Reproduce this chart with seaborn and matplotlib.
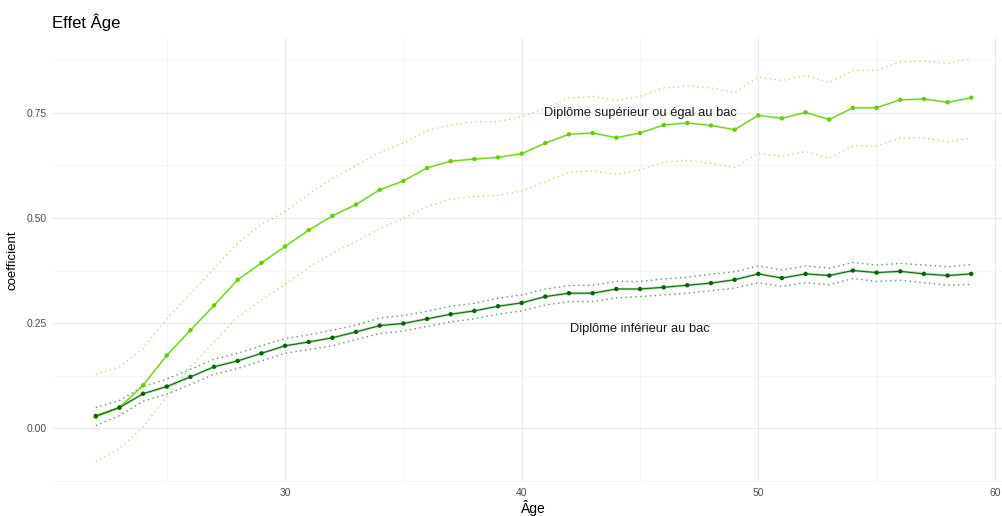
import numpy as np
import pandas as pd
import matplotlib
matplotlib.use("Agg")
import matplotlib.pyplot as plt
import seaborn as sns

ages = [22, 23, 24, 25, 26, 27, 28, 29, 30, 31, 32, 33, 34, 35, 36, 37, 38, 39, 40,
        41, 42, 43, 44, 45, 46, 47, 48, 49, 50, 51, 52, 53, 54, 55, 56, 57, 58, 59]

sup_coef = [0.027, 0.049, 0.102, 0.173, 0.233, 0.292, 0.353, 0.393, 0.432, 0.471,
            0.505, 0.532, 0.567, 0.588, 0.619, 0.635, 0.640, 0.644, 0.653, 0.678,
            0.699, 0.702, 0.691, 0.702, 0.721, 0.726, 0.720, 0.710, 0.744, 0.737,
            0.751, 0.734, 0.762, 0.762, 0.781, 0.783, 0.775, 0.786]
sup_upper = [0.128, 0.146, 0.190, 0.260, 0.320, 0.380, 0.440, 0.485, 0.515, 0.557,
             0.594, 0.624, 0.656, 0.678, 0.708, 0.721, 0.729, 0.729, 0.741, 0.761,
             0.785, 0.789, 0.779, 0.789, 0.809, 0.814, 0.809, 0.798, 0.835, 0.827,
             0.839, 0.822, 0.851, 0.851, 0.871, 0.873, 0.867, 0.880]
sup_lower = [-0.080, -0.049, 0.003, 0.075, 0.146, 0.205, 0.265, 0.305, 0.342, 0.383,
             0.416, 0.444, 0.475, 0.498, 0.527, 0.545, 0.551, 0.554, 0.564, 0.586,
             0.609, 0.612, 0.604, 0.614, 0.632, 0.637, 0.630, 0.620, 0.654, 0.646,
             0.658, 0.642, 0.671, 0.671, 0.690, 0.690, 0.681, 0.690]

inf_coef = [0.029, 0.049, 0.082, 0.099, 0.122, 0.146, 0.160, 0.178, 0.196, 0.205,
            0.215, 0.229, 0.244, 0.249, 0.260, 0.271, 0.279, 0.290, 0.298, 0.313,
            0.321, 0.321, 0.331, 0.331, 0.335, 0.340, 0.345, 0.353, 0.367, 0.357,
            0.367, 0.363, 0.375, 0.370, 0.373, 0.367, 0.363, 0.367]
inf_upper = [0.049, 0.066, 0.099, 0.117, 0.140, 0.164, 0.178, 0.196, 0.213, 0.222,
             0.233, 0.245, 0.262, 0.268, 0.278, 0.290, 0.297, 0.309, 0.317, 0.331,
             0.339, 0.340, 0.349, 0.349, 0.355, 0.359, 0.366, 0.372, 0.386, 0.376,
             0.386, 0.381, 0.394, 0.388, 0.392, 0.388, 0.384, 0.389]
inf_lower = [0.006, 0.030, 0.064, 0.081, 0.104, 0.128, 0.142, 0.160, 0.178, 0.187,
             0.196, 0.211, 0.225, 0.231, 0.242, 0.253, 0.260, 0.271, 0.279, 0.293,
             0.301, 0.301, 0.310, 0.313, 0.317, 0.321, 0.327, 0.333, 0.346, 0.337,
             0.346, 0.341, 0.356, 0.349, 0.352, 0.346, 0.340, 0.342]

label_sup = "Diplôme supérieur ou égal au bac"
label_inf = "Diplôme inférieur au bac"
x_ticks = [30, 40, 50, 60]
y_ticks = [0.00, 0.25, 0.50, 0.75]

sns.set_theme(style="white")
plt.rcParams['font.family'] = ['Liberation Sans', 'DejaVu Sans']

df = pd.DataFrame({
    "age": ages * 2,
    "coef": sup_coef + inf_coef,
    "upper": sup_upper + inf_upper,
    "lower": sup_lower + inf_lower,
    "groupe": [label_sup] * len(ages) + [label_inf] * len(ages),
})

col_sup = "#66CC00"
col_inf = "#006400"
palette = {label_sup: col_sup, label_inf: col_inf}

fig = plt.figure(figsize=(10.03, 5.16), dpi=100)
ax = fig.add_axes([52 / 1003, 34 / 516, 963 / 1003, 444 / 516])

xmin, xmax = 22, 59
ymin, ymax = min(sup_lower), max(sup_upper)
xr, yr = xmax - xmin, ymax - ymin
ax.set_xlim(xmin - 0.05 * xr, xmax + 0.05 * xr)
ax.set_ylim(ymin - 0.05 * yr, ymax + 0.05 * yr)

# grid
ax.set_xticks(x_ticks)
ax.set_xticks([25, 35, 45, 55], minor=True)
ax.set_yticks(y_ticks)
ax.set_yticks([-0.125, 0.125, 0.375, 0.625, 0.875], minor=True)
ax.grid(True, which="major", color="#EBEBEB", linewidth=0.9)
ax.grid(True, which="minor", color="#F2F2F2", linewidth=0.5)
ax.set_axisbelow(True)

for side in ax.spines.values():
    side.set_visible(False)

# confidence bounds (dotted)
for grp, a in [(label_sup, 0.55), (label_inf, 0.65)]:
    sub = df[df["groupe"] == grp]
    for colname in ["upper", "lower"]:
        sns.lineplot(data=sub, x="age", y=colname, ax=ax, color=palette[grp],
                     linestyle=(0, (1, 2.5)), linewidth=1.0, alpha=a,
                     estimator=None, errorbar=None, legend=False)

# main lines (soft thick + thin)
sns.lineplot(data=df, x="age", y="coef", hue="groupe", palette=palette, ax=ax,
             linewidth=1.8, alpha=0.3, estimator=None, errorbar=None, legend=False)
sns.lineplot(data=df, x="age", y="coef", hue="groupe", palette=palette, ax=ax,
             linewidth=0.7, estimator=None, errorbar=None, legend=False)
sns.scatterplot(data=df, x="age", y="coef", hue="groupe", palette=palette, ax=ax,
                s=10, linewidth=0, legend=False, zorder=5)

ax.text(45, 0.750, label_sup, ha="center", va="center", fontsize=9.3, color="#1a1a1a")
ax.text(45, 0.235, label_inf, ha="center", va="center", fontsize=9.3, color="#1a1a1a")

ax.set_xticklabels([str(t) for t in x_ticks])
ax.set_yticklabels([f"{t:.2f}" for t in y_ticks])
ax.tick_params(axis="both", which="both", length=0, labelsize=7.5, labelcolor="#4D4D4D", pad=4)
ax.set_xlabel("")
ax.set_ylabel("")

fig.text(533 / 1003, 1 - 508 / 516, "Âge", ha="center", va="center", fontsize=10, color="#000000")
fig.text(13 / 1003, 1 - 260 / 516, "coefficient", ha="center", va="center", fontsize=9.5,
         rotation=90, color="#000000")
fig.text(52 / 1003, 1 - 22 / 516, "Effet Âge", ha="left", va="center", fontsize=12, color="#000000")

fig.savefig("out.png", dpi=100)
